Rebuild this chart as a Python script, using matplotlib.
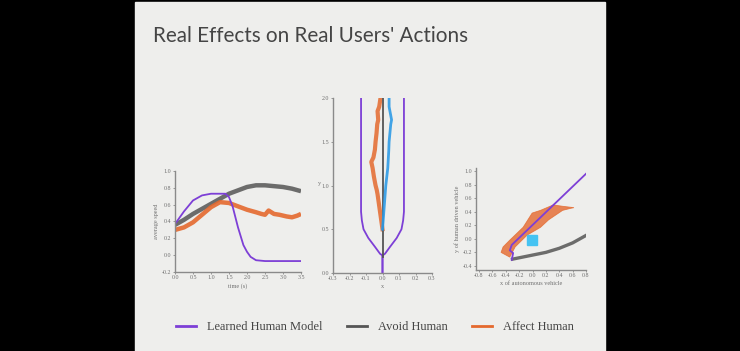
import matplotlib.pyplot as plt
from matplotlib.patches import Rectangle
from matplotlib.lines import Line2D

plt.rcParams['axes.unicode_minus'] = False

PURPLE = '#7d3fd6'
GRAY = '#555555'
ORANGE = '#e4692e'
BLUE = '#2e9be6'
CYAN = '#45c3f2'

# --- speed over time ---
t_learned = [0, 0.25, 0.5, 0.75, 1.0, 1.25, 1.4, 1.5, 1.6, 1.75, 1.9, 2.0, 2.1, 2.25, 2.5, 3.0, 3.5]
v_learned = [0.37, 0.52, 0.65, 0.71, 0.73, 0.73, 0.73, 0.69, 0.58, 0.33, 0.12, 0.04, -0.02, -0.06, -0.07, -0.07, -0.07]
t_avoid = [0, 0.25, 0.5, 0.75, 1.0, 1.25, 1.5, 1.75, 2.0, 2.25, 2.5, 2.75, 3.0, 3.25, 3.5]
v_avoid = [0.36, 0.42, 0.49, 0.55, 0.61, 0.67, 0.73, 0.77, 0.81, 0.83, 0.83, 0.82, 0.81, 0.79, 0.76]
t_affect = [0, 0.25, 0.5, 0.75, 1.0, 1.25, 1.5, 1.75, 2.0, 2.25, 2.4, 2.5, 2.6, 2.75, 2.9, 3.0, 3.1, 3.25, 3.4, 3.5]
v_affect = [0.30, 0.33, 0.39, 0.48, 0.57, 0.63, 0.62, 0.58, 0.54, 0.51, 0.49, 0.48, 0.53, 0.49, 0.48, 0.47, 0.46, 0.45, 0.47, 0.49]

# --- top-down trajectories ---
y_funnel = [0, 0.1, 0.2, 0.22, 0.3, 0.4, 0.5, 0.6, 0.7, 0.8, 1.0, 2.0]
w_funnel = [0, 0, 0.0, 0.015, 0.046, 0.086, 0.115, 0.125, 0.13, 0.13, 0.13, 0.13]
y_avoid2 = [0.18, 2.0]
x_avoid2 = [0.006, 0.006]
y_affect2 = [0.5, 0.7, 0.9, 0.95, 1.0, 1.1, 1.2, 1.27, 1.32, 1.41, 1.5, 1.6, 1.7, 1.75, 1.85, 1.9, 2.0]
x_affect2 = [0, -0.015, -0.03, -0.035, -0.042, -0.052, -0.06, -0.068, -0.055, -0.046, -0.042, -0.036, -0.032, -0.026, -0.03, -0.02, -0.012]
y_blue2 = [0.5, 0.75, 1.0, 1.2, 1.4, 1.5, 1.6, 1.7, 1.75, 1.8, 1.9, 2.0]
x_blue2 = [0, 0.01, 0.02, 0.032, 0.038, 0.04, 0.045, 0.05, 0.055, 0.05, 0.04, 0.04]

# --- relative positions ---
x_learned3 = [-0.31, -0.29, -0.34, -0.31, 0.8]
y_learned3 = [-0.31, -0.21, -0.17, -0.09, 0.96]
x_avoid3 = [-0.3, -0.2, -0.1, 0.0, 0.2, 0.4, 0.6, 0.8]
y_avoid3 = [-0.3, -0.28, -0.26, -0.24, -0.2, -0.14, -0.06, 0.05]
affect3_up_x = [-0.47, -0.44, -0.34, -0.14, -0.005, 0.12, 0.31, 0.45, 0.62]
affect3_up_y = [-0.20, -0.12, -0.02, 0.17, 0.38, 0.42, 0.50, 0.48, 0.46]
affect3_lo_x = [-0.34, -0.26, -0.08, 0.12, 0.24, 0.45, 0.57]
affect3_lo_y = [-0.27, -0.12, 0.055, 0.17, 0.28, 0.42, 0.45]
car_x, car_y, car_size = -0.075, -0.085, 0.14

fig = plt.figure(figsize=(7.4, 3.51), dpi=100, facecolor='black')
fig.patches.append(Rectangle((135 / 740, 0), 470 / 740, 1 - 2 / 351,
                             transform=fig.transFigure, color='#eeeeec', zorder=-5))

fig.text(153 / 740, 1 - 42 / 351, "Real Effects on Real Users' Actions",
         fontsize=14.9, color='#454545', family='Lato', va='baseline')

tick_font = dict(family='Liberation Serif', size=4.3, color='#707070')


def style(ax):
    ax.set_facecolor('none')
    for s in ['top', 'right']:
        ax.spines[s].set_visible(False)
    for s in ['left', 'bottom']:
        ax.spines[s].set_color('#8a8a8a')
        ax.spines[s].set_linewidth(1.0)
    ax.tick_params(length=1.5, width=0.6, color='#8a8a8a', pad=1)
    for lab in ax.get_xticklabels() + ax.get_yticklabels():
        lab.set_fontfamily(tick_font['family'])
        lab.set_fontsize(tick_font['size'])
        lab.set_color(tick_font['color'])


# speed plot
ax1 = fig.add_axes([175 / 740, 1 - 272 / 351, 126 / 740, 101 / 351])
ax1.plot(t_avoid, v_avoid, color=GRAY, lw=3.2, alpha=0.85, solid_capstyle='butt')
ax1.plot(t_affect, v_affect, color=ORANGE, lw=3.2, alpha=0.9, solid_capstyle='butt')
ax1.plot(t_learned, v_learned, color=PURPLE, lw=1.3)
ax1.set_xlim(0, 3.5)
ax1.set_ylim(-0.2, 1.0)
ax1.set_xticks([0, 0.5, 1.0, 1.5, 2.0, 2.5, 3.0, 3.5])
ax1.set_yticks([-0.2, 0.0, 0.2, 0.4, 0.6, 0.8, 1.0])
ax1.set_xlabel('time (s)', fontsize=4.5, family='Liberation Serif', color='#707070', labelpad=2)
ax1.set_ylabel('average speed', fontsize=4.5, family='Liberation Serif', color='#707070', labelpad=2)
style(ax1)

# trajectory plot
ax2 = fig.add_axes([333 / 740, 1 - 273 / 351, 99 / 740, 175 / 351])
ax2.plot([-w for w in w_funnel], y_funnel, color=PURPLE, lw=1.3)
ax2.plot(w_funnel, y_funnel, color=PURPLE, lw=1.3)
ax2.plot(x_affect2, y_affect2, color=ORANGE, lw=3.0, alpha=0.85)
ax2.plot(x_avoid2, y_avoid2, color=GRAY, lw=1.3)
ax2.plot(x_blue2, y_blue2, color=BLUE, lw=2.0, alpha=0.9)
ax2.set_xlim(-0.3, 0.3)
ax2.set_ylim(0, 2.0)
ax2.set_xticks([-0.3, -0.2, -0.1, 0.0, 0.1, 0.2, 0.3])
ax2.set_yticks([0.0, 0.5, 1.0, 1.5, 2.0])
ax2.set_xlabel('x', fontsize=4.5, family='Liberation Serif', color='#707070', labelpad=2)
ax2.set_ylabel('y', fontsize=4.5, family='Liberation Serif', color='#707070', labelpad=2, rotation=0)
style(ax2)

# relative position plot
ax3 = fig.add_axes([476 / 740, 1 - 270 / 351, 110 / 740, 102 / 351])
ax3.fill(affect3_up_x + affect3_lo_x[::-1], affect3_up_y + affect3_lo_y[::-1],
         color=ORANGE, alpha=0.8, lw=0.6, ec=ORANGE)
ax3.plot(x_avoid3, y_avoid3, color=GRAY, lw=2.4, alpha=0.85)
ax3.plot(x_learned3, y_learned3, color=PURPLE, lw=1.3)
ax3.add_patch(Rectangle((car_x, car_y), car_size, car_size, color=CYAN, zorder=5))
ax3.set_xlim(-0.845, 0.8)
ax3.set_ylim(-0.46, 1.045)
ax3.set_xticks([-0.8, -0.6, -0.4, -0.2, 0.0, 0.2, 0.4, 0.6, 0.8])
ax3.set_yticks([-0.4, -0.2, 0.0, 0.2, 0.4, 0.6, 0.8, 1.0])
ax3.set_xlabel('x of autonomous vehicle', fontsize=4.5, family='Liberation Serif', color='#707070', labelpad=2)
ax3.set_ylabel('y of human driven vehicle', fontsize=4.5, family='Liberation Serif', color='#707070', labelpad=2)
style(ax3)

handles = [Line2D([], [], color=PURPLE, lw=2),
           Line2D([], [], color=GRAY, lw=2),
           Line2D([], [], color=ORANGE, lw=2)]
fig.legend(handles, ['Learned Human Model', 'Avoid Human', 'Affect Human'],
           loc='center', bbox_to_anchor=(375 / 740, 1 - 327 / 351), ncol=3, frameon=False,
           prop=dict(family='Liberation Serif', size=8.9), labelcolor='#444444',
           handlelength=1.6, handletextpad=0.9, columnspacing=2.0)

fig.savefig('out.png', dpi=100, facecolor=fig.get_facecolor())
